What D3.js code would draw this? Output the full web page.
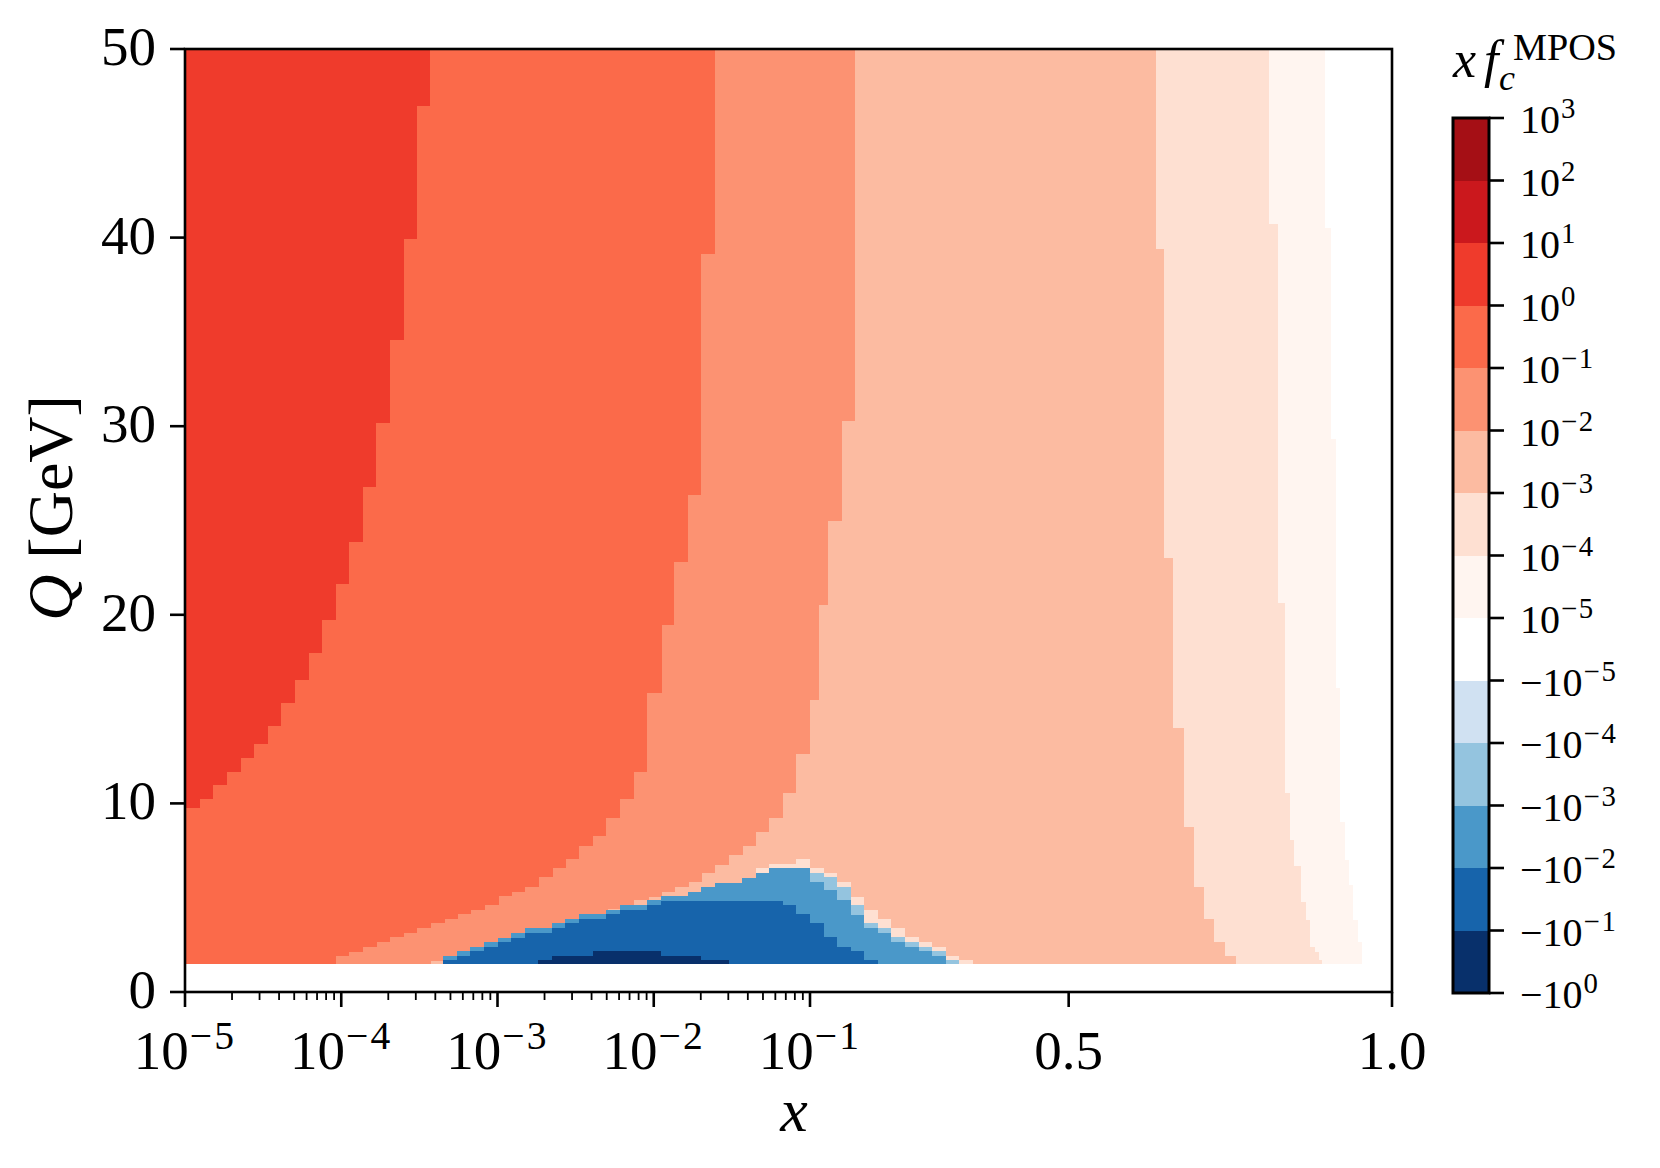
<!DOCTYPE html>
<html><head><meta charset="utf-8">
<script src="https://cdn.jsdelivr.net/npm/d3@7"></script>
<style>body{margin:0;background:#fff}svg{display:block}text{font-family:"Liberation Serif","DejaVu Serif",serif;fill:#000}</style>
</head><body>
<svg id="chart" width="1660" height="1168"></svg>
<script>
// ---------------- data ----------------
const qMin = 1.47;               // lowest Q of the grid (GeV)
const qMax = 50;
const xMin = 1e-5;
const levelColors = ["#a50f15","#cb181d","#ef3b2c","#fb6a4a","#fc9272","#fcbba1","#fee0d2","#fff5f0",
                     "#ffffff","#d0e1f2","#94c4df","#4a98c9","#1764ab","#08306b"];
const cbarTickSigns = [1,1,1,1,1,1,1,1,1,-1,-1,-1,-1,-1,-1];
const cbarTickExps  = [3,2,1,0,-1,-2,-3,-4,-5,-5,-4,-3,-2,-1,0];
const xTickValues = [1e-5,1e-4,1e-3,1e-2,1e-1,0.5,1.0];
const xTickLabels = ["-5","-4","-3","-2","-1","0.5","1.0"];
const yTickValues = [0,10,20,30,40,50];

// right edges of the positive bands: [Q lower end of step, x edge], from Q=50 downwards
const edge_ef3b2c = [[46.98,3.72e-4],[39.93,3.05e-4],[34.57,2.51e-4],[30.19,2.05e-4],[26.76,1.68e-4],[23.84,1.376e-4],
  [21.65,1.126e-4],[19.72,9.21e-5],[17.99,7.54e-5],[16.54,6.18e-5],[15.34,5.06e-5],[14.10,4.14e-5],[13.13,3.39e-5],
  [12.39,2.78e-5],[11.68,2.27e-5],[10.98,1.86e-5],[10.22,1.52e-5],[9.74,1.25e-5]];
const edge_fb6a4a = [[39.13,0.0245],[26.33,0.0200],[22.8,0.0166],[19.48,0.01355],[15.83,0.01124],[11.68,0.00912],
  [10.22,0.00743],[9.23,0.00608],[8.27,0.00498],[7.74,0.00408],[7.04,0.00334],[6.56,0.00273],[6.08,0.00225],
  [5.58,0.00184],[5.32,0.00151],[5.09,0.001243],[4.61,0.001015],[4.35,8.32e-4],[4.12,6.81e-4],[3.85,5.60e-4],
  [3.64,4.58e-4],[3.37,3.75e-4],[3.14,3.06e-4],[2.90,2.51e-4],[2.63,2.06e-4],[2.40,1.69e-4],[2.13,1.376e-4],
  [1.91,1.126e-4],[1.47,9.21e-5]];
const edge_fc9272 = [[30.3,0.170],[25.0,0.149],[20.5,0.128],[15.5,0.114],[12.6,0.1],[10.54,0.0818],[9.21,0.0671],
  [8.50,0.0549],[7.75,0.0451],[7.26,0.0370],[6.76,0.0303],[6.32,0.0248],[5.85,0.0204],[5.55,0.0168],[5.32,0.01377],
  [5.05,0.0113],[4.88,0.00929],[4.61,0.0075],[4.38,0.00617],[4.12,0.00506],[3.87,0.00411],[3.64,0.00337],
  [3.39,0.00276],[3.17,0.00226],[2.93,0.00184],[2.67,0.00151],[2.40,0.001238],[2.17,0.001018],[1.92,8.32e-4],
  [1.66,6.83e-4],[1.47,3.75e-4]];
const edge_fcbba1 = [[39.4,0.635],[23.0,0.648],[14.0,0.661],[8.76,0.679],[5.58,0.694],[3.87,0.709],[2.67,0.725],
  [1.92,0.741],[1.47,0.758]];
const edge_fee0d2 = [[40.7,0.810],[20.6,0.824],[10.54,0.835],[8.06,0.842],[6.66,0.848],[4.78,0.860],[3.82,0.867],
  [2.40,0.873],[2.13,0.881],[1.70,0.887],[1.47,0.892]];
const edge_fff5f0 = [[40.5,0.897],[29.3,0.905],[16.1,0.913],[9.03,0.920],[7.0,0.927],[5.67,0.934],[3.82,0.940],
  [2.67,0.947],[1.47,0.954]];

// negative region near threshold: columns [x left, x right, Q top]
const dome_fee0d2 = [[4.49e-2,5.48e-2,6.56],[5.48e-2,8.18e-2,6.79],[8.18e-2,0.1,7.04],[0.1,0.121,6.56],[0.121,0.142,6.29],
  [0.142,0.163,5.85],[0.163,0.184,5.05],[0.184,0.205,4.35],[0.205,0.226,3.87],[0.226,0.247,3.38],[0.247,0.268,2.93],
  [0.268,0.289,2.67],[0.289,0.31,2.40],[0.31,0.331,1.92],[0.331,0.352,1.70]];
const dome_94c4df = [[0.1,0.121,6.29],[0.121,0.142,6.08],[0.142,0.163,5.58],[0.163,0.184,4.61],[0.184,0.205,3.64],
  [0.205,0.226,3.38],[0.226,0.247,2.93],[0.247,0.268,2.67],[0.268,0.289,2.40],[0.289,0.31,2.17],[0.31,0.331,1.70]];
const dome_4a98c9 = [[4.49e-4,5.48e-4,1.91],[5.48e-4,6.70e-4,2.17],[6.70e-4,8.18e-4,2.40],[8.18e-4,1e-3,2.63],
  [1e-3,1.222e-3,2.88],[1.222e-3,1.493e-3,3.11],[1.493e-3,2.23e-3,3.38],[2.23e-3,2.72e-3,3.64],[2.72e-3,3.33e-3,3.87],
  [3.33e-3,4.96e-3,4.12],[4.96e-3,6.06e-3,4.35],[6.06e-3,9.05e-3,4.61],[9.05e-3,1.105e-2,4.88],[1.105e-2,1.65e-2,5.09],
  [1.65e-2,2.015e-2,5.32],[2.015e-2,2.46e-2,5.55],[2.46e-2,3.67e-2,5.80],[3.67e-2,4.49e-2,6.06],[4.49e-2,5.48e-2,6.29],
  [5.48e-2,0.1,6.56],[0.1,0.121,5.85],[0.121,0.142,5.41],[0.142,0.163,4.88],[0.163,0.184,4.08],[0.184,0.205,3.38],
  [0.205,0.226,3.11],[0.226,0.247,2.67],[0.247,0.268,2.40],[0.268,0.289,2.17],[0.289,0.31,1.92]];
const dome_1764ab = [[4.49e-4,5.48e-4,1.70],[5.48e-4,6.70e-4,1.91],[6.70e-4,8.18e-4,2.17],[8.18e-4,1e-3,2.40],
  [1e-3,1.222e-3,2.63],[1.222e-3,1.493e-3,2.88],[1.493e-3,2.23e-3,3.11],[2.23e-3,2.72e-3,3.38],[2.72e-3,3.33e-3,3.64],
  [3.33e-3,4.96e-3,3.87],[4.96e-3,6.06e-3,4.12],[6.06e-3,9.05e-3,4.35],[9.05e-3,1.105e-2,4.61],[1.105e-2,6.70e-2,4.84],
  [6.70e-2,8.18e-2,4.61],[8.18e-2,0.1,4.12],[0.1,0.121,3.64],[0.121,0.142,2.93],[0.142,0.163,2.40],[0.163,0.184,2.17],
  [0.184,0.205,1.70]];
const dome_08306b = [[1.82e-3,2.23e-3,1.70],[2.23e-3,4.06e-3,1.92],[4.06e-3,1.105e-2,2.17],[1.105e-2,2.015e-2,1.92],
  [2.015e-2,3.01e-2,1.70]];

// ---------------- layout ----------------
const L = 185, R = 1392, T = 49, B = 992, XBREAK = 810;
const svg = d3.select("#chart");
const xLog = d3.scaleLog().domain([1e-5, 0.1]).range([L, XBREAK]);
const xLin = d3.scaleLinear().domain([0.1, 1]).range([XBREAK, R]);
const xs = v => v <= 0.1 ? xLog(v) : xLin(v);
const ys = d3.scaleLinear().domain([0, 50]).range([B, T]);

svg.append("defs").append("clipPath").attr("id","plotclip")
  .append("rect").attr("x",L).attr("y",T).attr("width",R-L).attr("height",B-T);
const g = svg.append("g").attr("clip-path","url(#plotclip)");

function bandPath(edges){
  const p = d3.path();
  p.moveTo(xs(xMin), ys(qMax));
  let qt = qMax;
  for (const [ql, x] of edges){ p.lineTo(xs(x), ys(qt)); p.lineTo(xs(x), ys(ql)); qt = ql; }
  p.lineTo(xs(xMin), ys(qt)); p.closePath();
  return p.toString();
}
function skyPath(cols){
  const p = d3.path();
  p.moveTo(xs(cols[0][0]), ys(qMin));
  for (const [a,b,q] of cols){ p.lineTo(xs(a), ys(q)); p.lineTo(xs(b), ys(q)); }
  p.lineTo(xs(cols[cols.length-1][1]), ys(qMin)); p.closePath();
  return p.toString();
}
const bands = [[edge_fff5f0,"#fff5f0"],[edge_fee0d2,"#fee0d2"],[edge_fcbba1,"#fcbba1"],
               [edge_fc9272,"#fc9272"],[edge_fb6a4a,"#fb6a4a"],[edge_ef3b2c,"#ef3b2c"]];
g.selectAll("path.band").data(bands).join("path").attr("class","band")
  .attr("d", d => bandPath(d[0])).attr("fill", d => d[1]).attr("shape-rendering","crispEdges");
const domes = [[dome_fee0d2,"#fee0d2"],[dome_94c4df,"#94c4df"],[dome_4a98c9,"#4a98c9"],
               [dome_1764ab,"#1764ab"],[dome_08306b,"#08306b"]];
g.selectAll("path.dome").data(domes).join("path").attr("class","dome")
  .attr("d", d => skyPath(d[0])).attr("fill", d => d[1]).attr("shape-rendering","crispEdges");

// ---------------- axes ----------------
const FS = 55;
function powText(sel, x, y, fs, sign, mant, exp, anchor){
  const t = sel.append("text").attr("x", x).attr("y", y).attr("font-size", fs).attr("text-anchor", anchor);
  t.append("tspan").text((sign < 0 ? "\u2212" : "") + mant);
  t.append("tspan").attr("dx", 1).attr("dy", -0.37*fs).attr("font-size", 0.72*fs)
    .attr("letter-spacing", 0.04*fs).text(exp.replace("-", "\u2212"));
  return t;
}
const ax = svg.append("g");
const minor = [];
for (let e = -5; e < -1; e++) for (let m = 2; m <= 9; m++) minor.push(m * Math.pow(10, e));
ax.selectAll("line.minor").data(minor).join("line")
  .attr("x1", d => xs(d)).attr("x2", d => xs(d)).attr("y1", B).attr("y2", B + 8)
  .attr("stroke", "#000").attr("stroke-width", 1.8);
ax.selectAll("line.major").data(xTickValues).join("line")
  .attr("x1", d => xs(d)).attr("x2", d => xs(d)).attr("y1", B).attr("y2", B + 15)
  .attr("stroke", "#000").attr("stroke-width", 2.6);
const XLAB_Y = 1069;
xTickValues.forEach((v, i) => {
  const lab = xTickLabels[i];
  if (v <= 0.1) powText(ax, xs(v), XLAB_Y, FS, 1, "10", lab, "middle");
  else ax.append("text").attr("x", xs(v)).attr("y", XLAB_Y).attr("font-size", FS).attr("text-anchor","middle").text(lab);
});
ax.selectAll("line.ytick").data(yTickValues).join("line")
  .attr("x1", L - 15).attr("x2", L).attr("y1", d => ys(d)).attr("y2", d => ys(d))
  .attr("stroke", "#000").attr("stroke-width", 2.6);
ax.selectAll("text.ylab").data(yTickValues).join("text").attr("class","ylab")
  .attr("x", 156).attr("y", d => ys(d) + 16).attr("font-size", FS).attr("text-anchor","end").text(d => d);
ax.append("rect").attr("x", L).attr("y", T).attr("width", R - L).attr("height", B - T)
  .attr("fill","none").attr("stroke","#000").attr("stroke-width", 2.6);

// axis titles
const xt = svg.append("text").attr("x", 794).attr("y", 1131).attr("font-size", 62).attr("text-anchor","middle");
xt.append("tspan").attr("font-style","italic").text("x");
const yt = svg.append("text").attr("transform","translate(72,508) rotate(-90)").attr("font-size", 64).attr("text-anchor","middle");
yt.append("tspan").attr("font-style","italic").text("Q");
yt.append("tspan").text(" [GeV]");

// ---------------- colorbar ----------------
const CBX = 1453, CBW = 36, CBT = 118, CBB = 993;
const cy = d3.scaleLinear().domain([0, levelColors.length]).range([CBT, CBB]);
const cb = svg.append("g");
cb.selectAll("rect.seg").data(levelColors).join("rect").attr("class","seg")
  .attr("x", CBX).attr("width", CBW).attr("y", (d,i) => cy(i)).attr("height", (d,i) => cy(i+1) - cy(i) + 0.5)
  .attr("fill", d => d).attr("shape-rendering","crispEdges");
cb.append("rect").attr("x", CBX).attr("y", CBT).attr("width", CBW).attr("height", CBB - CBT)
  .attr("fill","none").attr("stroke","#000").attr("stroke-width", 3);
cbarTickExps.forEach((e, i) => {
  const y = cy(i);
  cb.append("line").attr("x1", CBX + CBW).attr("x2", CBX + CBW + 15).attr("y1", y).attr("y2", y)
    .attr("stroke","#000").attr("stroke-width", 2.6);
  powText(cb, 1520, y + 15, 40, cbarTickSigns[i], "10", String(e), "start");
});
// colorbar title
const ct = svg.append("text").attr("x", 1453).attr("y", 77).attr("font-size", 52).attr("font-style","italic");
ct.append("tspan").text("x");
ct.append("tspan").attr("dx", 8).text("f");
svg.append("text").attr("x", 1499).attr("y", 90).attr("font-size", 36).attr("font-style","italic").text("c");
svg.append("text").attr("x", 1513).attr("y", 60).attr("font-size", 37)
  .attr("textLength", 104).attr("lengthAdjust","spacingAndGlyphs").text("MPOS");
</script>
</body></html>
